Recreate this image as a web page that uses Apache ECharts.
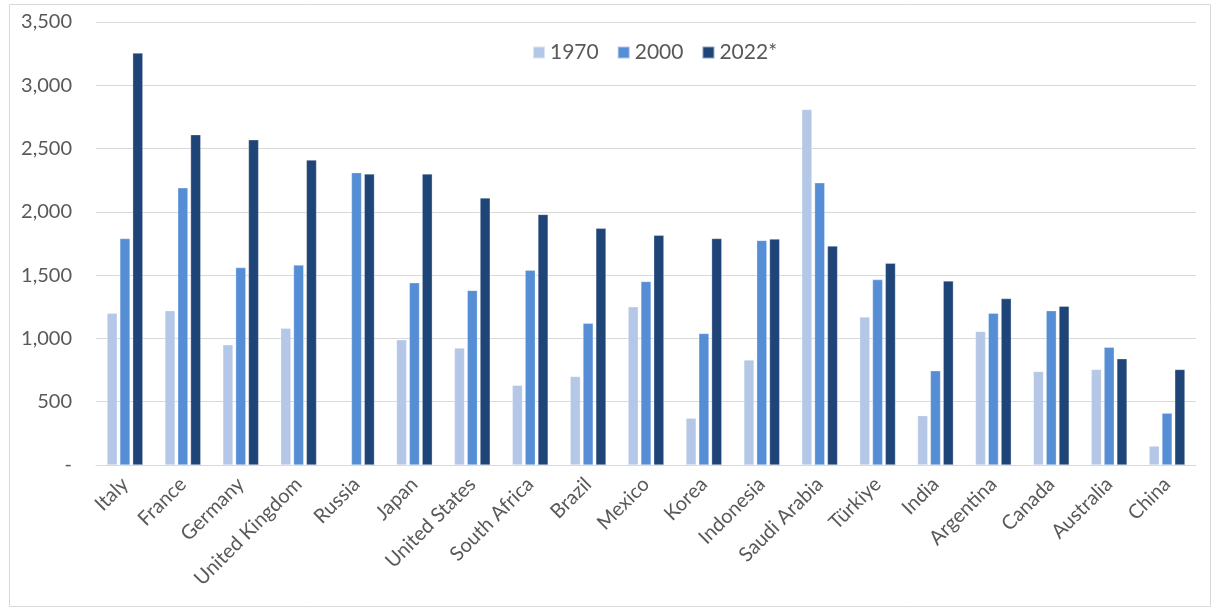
<!DOCTYPE html>
<html>
<head>
<meta charset="utf-8">
<script src="https://cdn.jsdelivr.net/npm/echarts@6/dist/echarts.min.js"></script>
<style>
  html, body { margin: 0; padding: 0; background: #ffffff; }
  #chart { width: 1214px; height: 608px; }
</style>
</head>
<body>
<div id="chart"></div>
<script>
// Countries, ordered as plotted
const countries = ['Italy', 'France', 'Germany', 'United Kingdom', 'Russia', 'Japan',
  'United States', 'South Africa', 'Brazil', 'Mexico', 'Korea', 'Indonesia',
  'Saudi Arabia', 'Türkiye', 'India', 'Argentina', 'Canada', 'Australia', 'China'];

// Series labels
const seriesNames = ['1970', '2000', '2022*'];

// Values per country
const values1970 = [1200, 1220, 950, 1080, null, 990, 925, 630, 700, 1250, 370, 830,
  2810, 1170, 390, 1055, 740, 755, 150];
const values2000 = [1790, 2190, 1560, 1580, 2310, 1440, 1380, 1540, 1120, 1450, 1040, 1775,
  2230, 1465, 745, 1200, 1220, 930, 410];
const values2022 = [3255, 2610, 2570, 2410, 2300, 2300, 2110, 1980, 1870, 1815, 1790, 1785,
  1730, 1595, 1455, 1315, 1255, 840, 755];

const colors = ['#b4c7e7', '#558ed5', '#1f4478'];
const textColor = '#595959';
const fontFamily = 'Lato, "Open Sans", sans-serif';

const chart = echarts.init(document.getElementById('chart'));

function barSeries(name, data, color) {
  return {
    name: name,
    type: 'bar',
    data: data,
    barGap: '25%',
    barCategoryGap: '38%',
    itemStyle: { color: color, borderColor: 'rgba(255,255,255,0.5)', borderWidth: 0.6 }
  };
}

chart.setOption({
  animation: false,
  backgroundColor: '#ffffff',
  textStyle: { fontFamily: fontFamily },
  graphic: [{
    type: 'rect',
    shape: { x: 9.5, y: 4.5, width: 1201, height: 602 },
    style: { fill: 'none', stroke: '#d9d9d9', lineWidth: 1 },
    silent: true,
    z: -1
  }],
  legend: {
    top: 37,
    left: 527,
    itemWidth: 12,
    itemHeight: 12,
    itemGap: 18,
    icon: 'rect',
    textStyle: { color: textColor, fontSize: 21, fontFamily: fontFamily },
    data: seriesNames
  },
  grid: { left: 96, right: 18, top: 22, bottom: 143 },
  xAxis: {
    type: 'category',
    data: countries,
    axisLine: { lineStyle: { color: '#d9d9d9', width: 1 } },
    axisTick: { show: false },
    axisLabel: {
      interval: 0,
      rotate: 45,
      color: textColor,
      fontSize: 20,
      margin: 16,
      fontFamily: fontFamily
    }
  },
  yAxis: {
    type: 'value',
    min: 0,
    max: 3500,
    interval: 500,
    axisLine: { show: false },
    axisTick: { show: false },
    splitLine: { lineStyle: { color: '#d9d9d9', width: 1 } },
    axisLabel: {
      color: textColor,
      fontSize: 20,
      margin: 24,
      fontFamily: fontFamily,
      formatter: function (v) {
        return v === 0 ? '-' : v.toLocaleString('en-US');
      }
    }
  },
  series: [
    barSeries(seriesNames[0], values1970, colors[0]),
    barSeries(seriesNames[1], values2000, colors[1]),
    barSeries(seriesNames[2], values2022, colors[2])
  ]
});
</script>
</body>
</html>
